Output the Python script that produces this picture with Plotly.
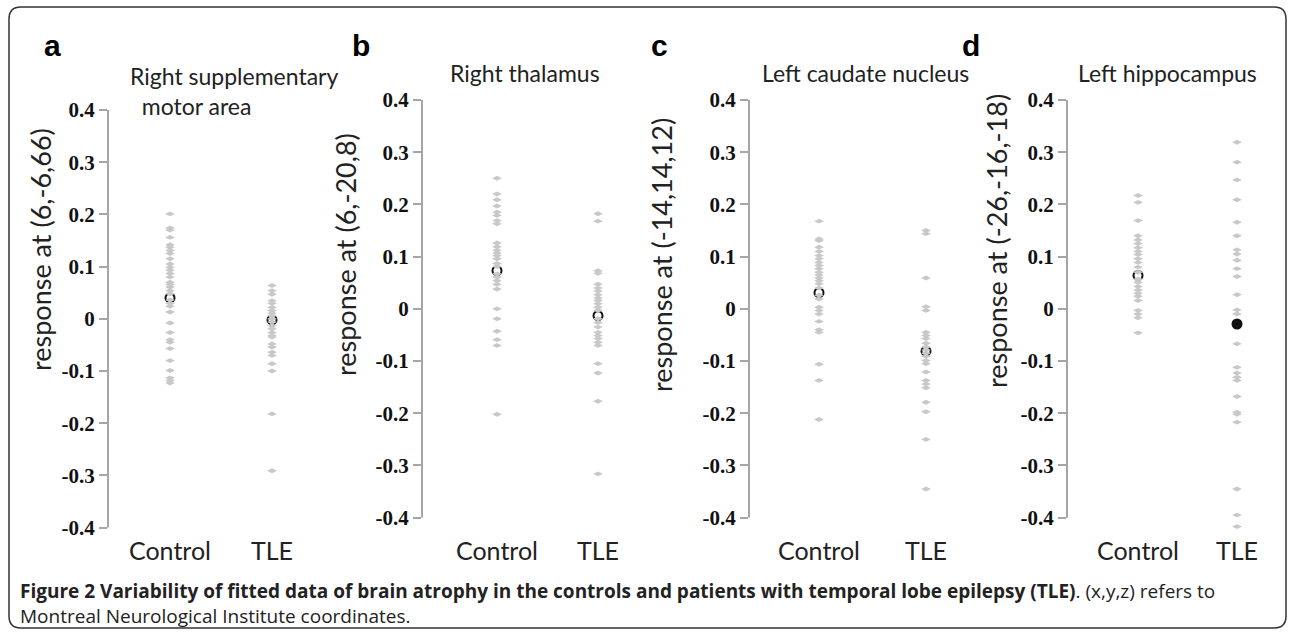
import plotly.graph_objects as go

W, H = 1295, 632

# ---------------- data ----------------
groups = ["Control", "TLE"]
panel_letters = ["a", "b", "c", "d"]
panel_titles = ["Right supplementary<br>&nbsp;&nbsp;motor area", "Right thalamus",
                "Left caudate nucleus", "Left hippocampus"]
y_titles = ["response at (6,-6,66)", "response at (6,-20,8)",
            "response at (-14,14,12)", "response at (-26,-16,-18)"]
y_tickvals = [-0.4, -0.3, -0.2, -0.1, 0, 0.1, 0.2, 0.3, 0.4]
y_ticktext = ["-0.4", "-0.3", "-0.2", "-0.1", "0", "0.1", "0.2", "0.3", "0.4"]

a_control = [0.201, 0.174, 0.170, 0.156, 0.142, 0.137, 0.131, 0.125, 0.115, 0.105,
             0.099, 0.093, 0.087, 0.080, 0.070, 0.066, 0.061, 0.054, 0.048, 0.036,
             0.030, 0.024, 0.013, -0.008, -0.026, -0.040, -0.045, -0.057, -0.080,
             -0.099, -0.113, -0.118, -0.123]
a_tle = [0.064, 0.054, 0.047, 0.035, 0.030, 0.022, 0.016, 0.011, 0.006, 0.0,
         -0.006, -0.013, -0.019, -0.026, -0.032, -0.035, -0.048, -0.054, -0.064,
         -0.070, -0.086, -0.100, -0.182, -0.291]
b_control = [0.250, 0.220, 0.209, 0.197, 0.185, 0.179, 0.169, 0.163, 0.126, 0.119,
             0.112, 0.107, 0.102, 0.096, 0.087, 0.081, 0.067, 0.061, 0.054, 0.047,
             0.038, 0.0, -0.019, -0.043, -0.059, -0.070, -0.202]
b_tle = [0.182, 0.168, 0.073, 0.068, 0.047, 0.040, 0.034, 0.027, 0.021, 0.016,
         0.010, 0.003, -0.003, -0.019, -0.026, -0.035, -0.045, -0.051, -0.057,
         -0.064, -0.070, -0.105, -0.123, -0.177, -0.316]
c_control = [0.168, 0.134, 0.131, 0.118, 0.110, 0.102, 0.096, 0.089, 0.083, 0.077,
             0.070, 0.065, 0.059, 0.054, 0.048, 0.040, 0.026, 0.019, 0.003, -0.003,
             -0.010, -0.024, -0.040, -0.045, -0.106, -0.137, -0.212]
c_tle = [0.150, 0.144, 0.059, 0.004, -0.003, -0.045, -0.051, -0.057, -0.066, -0.073,
         -0.079, -0.085, -0.091, -0.099, -0.105, -0.121, -0.137, -0.144, -0.151,
         -0.179, -0.197, -0.250, -0.345]
d_control = [0.217, 0.204, 0.169, 0.140, 0.132, 0.125, 0.117, 0.110, 0.104, 0.096,
             0.089, 0.080, 0.070, 0.057, 0.051, 0.043, 0.036, 0.030, 0.024, 0.016,
             -0.003, -0.010, -0.017, -0.046]
d_tle = [0.319, 0.281, 0.247, 0.209, 0.166, 0.140, 0.113, 0.105, 0.093, 0.077,
         0.062, 0.027, -0.002, -0.010, -0.067, -0.112, -0.123, -0.131, -0.137,
         -0.168, -0.198, -0.202, -0.217, -0.345, -0.395, -0.417]

control_means = [0.040, 0.073, 0.031, 0.064]
tle_means = [-0.002, -0.013, -0.081, -0.029]

controls = [a_control, b_control, c_control, d_control]
tles = [a_tle, b_tle, c_tle, d_tle]

caption_bold = "Figure 2 Variability of fitted data of brain atrophy in the controls and patients with temporal lobe epilepsy (TLE)"
caption_rest1 = ". (x,y,z) refers to"
caption_line2 = "Montreal Neurological Institute coordinates."

# ---------------- layout geometry (pixels) ----------------
# y pixel of +0.4 and -0.4 per panel; low = bottom of plotted range
geom = [
    dict(ax=108, c=170, t=272, r=320, top=110, bot=527.7, lab=1, low=-0.4),
    dict(ax=422, c=497, t=598, r=640, top=100, bot=517.7, lab=11, low=-0.4),
    dict(ax=749, c=819, t=926, r=960, top=100, bot=517.7, lab=11, low=-0.4),
    dict(ax=1067, c=1138, t=1237, r=1280, top=100, bot=517.7, lab=11, low=-0.42),
]
letter_x = [52, 361, 659, 971]
title_pos = [(128, 60, "left"), (525, 73, "center"), (865, 73, "center"), (1167, 73, "center")]
ytitle_pos = [(40, 250), (346, 255), (662, 255), (996, 241)]


def px(x):
    return x / W


def py(y):
    return 1 - y / H


GRAY = "#c8c8c8"
AXIS = "#a6a6a6"
SANS = "Lato"

fig = go.Figure()
layout = dict()
annotations = []
shapes = []

for i in range(4):
    g = geom[i]
    sfx = "" if i == 0 else str(i + 1)
    xa, ya = "x" + sfx, "y" + sfx
    spacing = g["t"] - g["c"]
    x0 = 1 - (g["c"] - g["ax"]) / spacing
    x1 = 2 + (g["r"] - g["t"]) / spacing
    per_unit = (g["bot"] - g["top"]) / 0.8
    bottom_px = g["bot"] + (-0.4 - g["low"]) * per_unit

    fig.add_trace(go.Scatter(
        x=[1, 2], y=[control_means[i], tle_means[i]], mode="markers",
        xaxis=xa, yaxis=ya, cliponaxis=False, showlegend=False,
        marker=dict(symbol=["circle-open", "circle" if i == 3 else "circle-open"],
                    size=9, color="#111", line=dict(color="#111", width=2))))
    fig.add_trace(go.Scatter(
        x=[1] * len(controls[i]) + [2] * len(tles[i]), y=controls[i] + tles[i],
        mode="markers", xaxis=xa, yaxis=ya, cliponaxis=False, showlegend=False,
        marker=dict(symbol="diamond-wide", size=7, color=GRAY, line=dict(width=0))))

    layout["xaxis" + sfx] = dict(
        domain=[px(g["ax"]), px(g["r"])], range=[x0, x1], anchor=ya, automargin=False,
        tickvals=[1, 2], ticktext=groups, showline=False, showgrid=False,
        zeroline=False, ticks="outside",
        ticklen=max(0, g["lab"] - (bottom_px - g["bot"])), tickcolor="rgba(0,0,0,0)",
        tickfont=dict(family=SANS, size=25, color="#222"), fixedrange=True)
    layout["yaxis" + sfx] = dict(
        domain=[py(bottom_px), py(g["top"])], range=[g["low"], 0.4], anchor=xa,
        automargin=False,
        tickvals=y_tickvals, ticktext=y_ticktext, showline=False,
        ticks="outside", ticklen=8, tickcolor=AXIS, tickwidth=1.5,
        showgrid=False, zeroline=False,
        tickfont=dict(family="Liberation Serif", size=21, color="#111", weight="bold"))
    shapes.append(dict(type="line", xref=xa + " domain", yref=ya,
                       x0=0, x1=0, y0=y_tickvals[0], y1=y_tickvals[-1],
                       line=dict(color=AXIS, width=2)))

    annotations.append(dict(
        text="<b>" + panel_letters[i] + "</b>", x=px(letter_x[i]), y=py(45),
        xref="paper", yref="paper", showarrow=False, xanchor="center", yanchor="middle",
        font=dict(family="Liberation Sans", size=30, color="black")))
    tx, ty, al = title_pos[i]
    annotations.append(dict(
        text=panel_titles[i], x=px(tx), y=py(ty), xref="paper", yref="paper",
        showarrow=False, xanchor="left" if al == "left" else "center",
        yanchor="top" if al == "left" else "middle",
        align="left", font=dict(family=SANS, size=23, color="#222")))
    yx, yy = ytitle_pos[i]
    annotations.append(dict(
        text=y_titles[i], x=px(yx), y=py(yy), xref="paper", yref="paper",
        showarrow=False, textangle=-90, xanchor="center", yanchor="middle",
        font=dict(family=SANS, size=27, color="#222")))

annotations.append(dict(
    text="<b>" + caption_bold + "</b>" + caption_rest1 + "<br>" + caption_line2,
    x=px(18), y=py(576), xref="paper", yref="paper", showarrow=False,
    xanchor="left", yanchor="top", align="left",
    font=dict(family="Open Sans", size=19, color="#222")))

# rounded border around the whole figure
L, T, R, B, rad = 9, 7, 1286, 628, 12
rx, ry = rad / W, rad / H
path = (f"M {px(L)+rx},{py(T)} L {px(R)-rx},{py(T)} Q {px(R)},{py(T)} {px(R)},{py(T)-ry} "
        f"L {px(R)},{py(B)+ry} Q {px(R)},{py(B)} {px(R)-rx},{py(B)} "
        f"L {px(L)+rx},{py(B)} Q {px(L)},{py(B)} {px(L)},{py(B)+ry} "
        f"L {px(L)},{py(T)-ry} Q {px(L)},{py(T)} {px(L)+rx},{py(T)} Z")
shapes.append(dict(type="path", path=path, xref="paper", yref="paper",
                   line=dict(color="#333", width=1.5)))

fig.update_layout(
    width=W, height=H, margin=dict(l=0, r=0, t=0, b=0, autoexpand=False),
    paper_bgcolor="white", plot_bgcolor="white",
    annotations=annotations, shapes=shapes, **layout)

fig.write_html("out.html", config={"displayModeBar": False},
               post_script="document.body.style.margin='0';")
